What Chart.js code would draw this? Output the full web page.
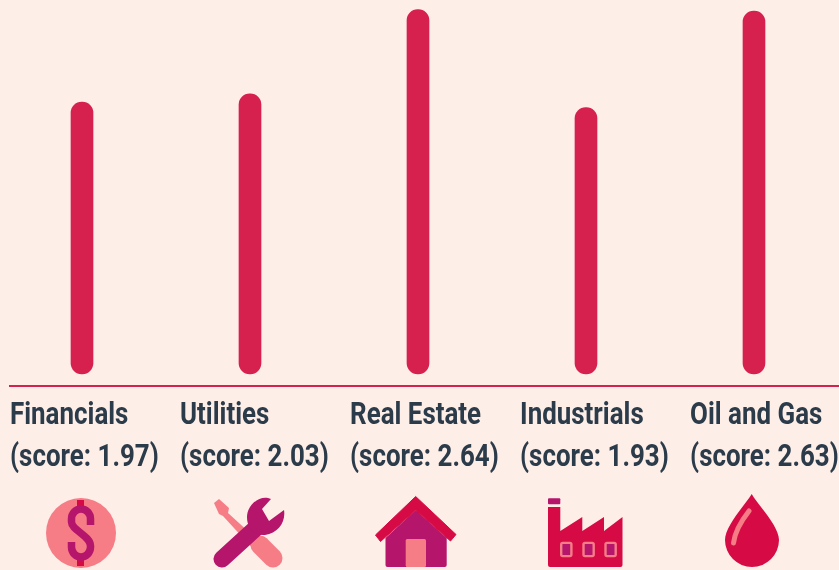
<!DOCTYPE html>
<html>
<head>
<meta charset="utf-8">
<title>Sector scores</title>
<script src="https://cdn.jsdelivr.net/npm/chart.js@4"></script>
<style>
    html, body { margin: 0; padding: 0; background: #fdeee8; overflow: hidden; }
    #wrap { position: relative; width: 839px; height: 570px; }
    #wrap canvas { position: absolute; left: 0; top: 0; }
    #icons { position: absolute; left: 0; top: 0; }
</style>
</head>
<body>
<div id="wrap">
    <canvas id="scoreChart" width="839" height="570"></canvas>
    <svg id="icons" width="839" height="570" viewBox="0 0 839 570">
        <!-- dollar -->
        <circle cx="81" cy="533" r="35" fill="#f67c86"/>
        <rect x="77" y="500" width="7" height="8" fill="#d60b45"/>
        <rect x="77" y="558" width="7" height="8" fill="#d60b45"/>
        <path d="M90.5 525 V519 a9.5 10 0 0 0 -19 0 V522 c0 8 19 14 19 24 V547 a9.5 10 0 0 1 -19 0 V542" fill="none" stroke="#b5156b" stroke-width="7.5"/>
        <!-- tools -->
        <path d="M214 503 L219 499 L229 508 L228 513 L262 544 L255 551 L223 516 L219 514 Z" fill="#f67c86"/>
        <path d="M260 545 L273 558" stroke="#f67c86" stroke-width="19" stroke-linecap="round"/>
        <path d="M222 559 L256 528" stroke="#b5156b" stroke-width="17" stroke-linecap="round"/>
        <path d="M271 499 L262 509 L269 521 L284 510 C286 522 278 533 265 535 C255 536 247 529 247 517 C247 506 258 496 268 498 Z" fill="#b5156b"/>
        <!-- house -->
        <path d="M385.5 538 L415.7 510 L446.7 538 V565 a2 2 0 0 1 -2 2 H387.5 a2 2 0 0 1 -2 -2 Z" fill="#b5156b"/>
        <rect x="405.7" y="539" width="20.3" height="28" rx="1.5" fill="#f67c86"/>
        <path d="M415.7 496.5 L456 534.5 L450.5 541 L415.7 510 L380.5 541.5 L375.5 535 Z" fill="#d60b45" stroke="#d60b45" stroke-width="1" stroke-linejoin="round"/>
        <!-- factory -->
        <rect x="548" y="498.3" width="12.3" height="6" rx="1" fill="#b5156b"/>
        <path d="M548 507 H560.3 V531 L582.3 517 V531 L604 517 V531 L622.5 517 V565 a2 2 0 0 1 -2 2 H550 a2 2 0 0 1 -2 -2 Z" fill="#d60b45"/>
        <g fill="#b5156b" stroke="#f67c86" stroke-width="2.4">
            <rect x="561.2" y="542.9" width="10.2" height="13.2" rx="1.5"/>
            <rect x="583.5" y="542.9" width="10.2" height="13.2" rx="1.5"/>
            <rect x="605.5" y="542.9" width="10.2" height="13.2" rx="1.5"/>
        </g>
        <!-- drop -->
        <path d="M751.7 494 C745 505 725 526 725 540 A27 27 0 0 0 779 540 C779 526 758 505 751.7 494 Z" fill="#d60b45"/>
        <path d="M749 511 C742 520 735 530 733.5 543" fill="none" stroke="#f67c86" stroke-width="5" stroke-linecap="round"/>
    </svg>
</div>
<script>
const categories = ['Financials', 'Utilities', 'Real Estate', 'Industrials', 'Oil and Gas'];
const scores = [1.97, 2.03, 2.64, 1.93, 2.63];
const barSlots = [0, 1, 2, 3, 4];

const ink = '#2b3b4a';
const barColor = '#d6204e';

function flatFit(scale) {
    scale.height = 184;
    scale.paddingLeft = 0;
    scale.paddingRight = 0;
}

// no condensed face is installed, so squeeze Roboto sideways
const condensedLabels = {
    id: 'condensedLabels',
    afterDraw(chart) {
        const scale = chart.scales.labels;
        const ctx = chart.ctx;
        ctx.save();
        ctx.fillStyle = ink;
        ctx.font = 'bold 32px Roboto, sans-serif';
        ctx.textAlign = 'left';
        ctx.textBaseline = 'alphabetic';
        barSlots.forEach((slot, i) => {
            const x = scale.getPixelForValue(slot);
            const lines = [categories[i], '(score: ' + scores[i].toFixed(2) + ')'];
            lines.forEach((line, n) => {
                ctx.save();
                ctx.translate(x, 424 + n * 42);
                ctx.scale(0.81, 1);
                ctx.fillText(line, 0, 0);
                ctx.restore();
            });
        });
        ctx.restore();
    }
};

new Chart(document.getElementById('scoreChart'), {
    type: 'bar',
    data: {
        datasets: [{
            data: scores.map((v, i) => ({ x: barSlots[i], y: v })),
            backgroundColor: barColor,
            barThickness: 22,
            borderRadius: 11,
            borderSkipped: false,
            xAxisID: 'x',
            yAxisID: 'y'
        }]
    },
    plugins: [condensedLabels],
    options: {
        responsive: false,
        animation: false,
        layout: { padding: { left: 10, right: 0, top: 0, bottom: 0 } },
        plugins: {
            legend: { display: false },
            tooltip: { enabled: false }
        },
        scales: {
            x: {
                type: 'linear',
                display: false,
                offset: false,
                min: -0.4286,
                max: 4.506
            },
            // labels sit on their own axis, they are spaced a bit wider than the bars
            labels: {
                type: 'linear',
                position: 'bottom',
                offset: false,
                min: 0,
                max: 4.876,
                afterBuildTicks(scale) {
                    scale.ticks = barSlots.map(v => ({ value: v }));
                },
                afterFit: flatFit,
                grid: { display: false, drawTicks: false },
                border: { display: true, color: barColor, width: 2 },
                ticks: { display: false }
            },
            y: {
                display: false,
                min: -0.087,
                max: 2.71
            }
        }
    }
});
</script>
</body>
</html>
